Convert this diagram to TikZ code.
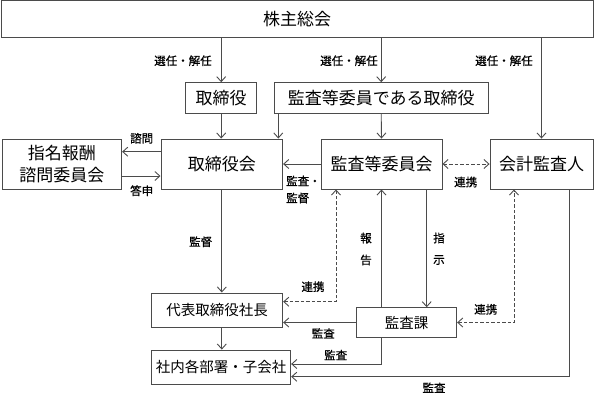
\documentclass[tikz,border=0pt]{standalone}
\usepackage{fontspec}
\setmainfont{Noto Sans CJK JP}
\newfontfamily\labfont{Noto Sans CJK JP}[FakeBold=0.7]
\usetikzlibrary{arrows.meta,calc}
\definecolor{lc}{RGB}{75,75,75}
\begin{document}
\begin{tikzpicture}[x=1pt,y=-1pt,
  box/.style={draw=lc, line width=0.9pt, inner sep=0pt, align=center,
    font=\fontsize{17}{22}\selectfont},
  sbox/.style={box, font=\fontsize{14.5}{18}\selectfont},
  arr/.style={draw=lc, line width=0.9pt, -{Straight Barb[length=5pt,width=9pt]}},
  barr/.style={draw=lc, line width=0.9pt, dash pattern=on 3.5pt off 2pt,
    {Straight Barb[length=5pt,width=9pt]}-{Straight Barb[length=5pt,width=9pt]}},
  lab/.style={inner sep=0pt, font=\labfont\fontsize{11.5}{17}\selectfont}]
\useasboundingbox (0,0) rectangle (594,394);
% boxes
\node[box, minimum width=592pt, minimum height=37pt] (top) at (297,19) {株主総会};
\node[box, minimum width=71pt, minimum height=30.6pt] (tori) at (221.2,98) {取締役};
\node[box, minimum width=214.3pt, minimum height=30.6pt] (kansatori) at (381.2,98) {監査等委員である取締役};
\node[box, minimum width=119.7pt, minimum height=50pt] (shimei) at (61.8,164) {指名報酬\\諮問委員会};
\node[box, minimum width=121.7pt, minimum height=50pt] (torikai) at (221.8,164) {取締役会};
\node[box, minimum width=121pt, minimum height=50pt] (kansakai) at (381.5,164) {監査等委員会};
\node[box, minimum width=103pt, minimum height=50pt] (kaikei) at (541.5,164) {会計監査人};
\node[sbox, minimum width=131pt, minimum height=34.7pt] (daihyo) at (217.2,310.3) {代表取締役社長};
\node[sbox, minimum width=139pt, minimum height=34.3pt] (shanai) at (221.2,367.2) {社内各部署・子会社};
\node[sbox, minimum width=100pt, minimum height=29.6pt] (kansaka) at (406.7,322.5) {監査課};
% connectors
\draw[arr] (tori.north |- top.south) -- (tori.north);
\draw[arr] (kansatori.north |- top.south) -- (kansatori.north);
\draw[arr] (kaikei.north |- top.south) -- (kaikei.north);
\draw[arr] (tori.south) -- (tori.south |- torikai.north);
\draw[arr] ([xshift=4.7pt]kansatori.south west) -- ([xshift=4.7pt]kansatori.south west |- torikai.north);
\draw[arr] (kansatori.south) -- (kansakai.north);
\draw[arr] ([yshift=12.3pt]torikai.west) -- ([yshift=12.3pt]torikai.west -| shimei.east);
\draw[arr] ([yshift=-12pt]shimei.east) -- ([yshift=-12pt]shimei.east -| torikai.west);
\draw[arr] (kansakai.west) -- (torikai.east);
\draw[barr] (kansakai.east) -- (kaikei.west);
\draw[arr] (torikai.south) -- (torikai.south |- daihyo.north);
\draw[arr] (torikai.south |- daihyo.south) -- (torikai.south |- shanai.north);
\draw[barr] ([yshift=8.6pt]daihyo.east) -| ([xshift=-45.5pt]kansakai.south);
\draw[arr] (kansakai.south |- kansaka.north) -- (kansakai.south);
\draw[arr] ([xshift=45.2pt]kansakai.south) -- ([xshift=45.2pt]kansakai.south |- kansaka.north);
\draw[arr] (kansaka.west) -- (kansaka.west -| daihyo.east);
\draw[arr] (kansakai.south |- kansaka.south) |- ([yshift=3.2pt]shanai.east);
\draw[arr] ([xshift=27.8pt]kaikei.south) |- ([yshift=-9.5pt]shanai.east);
\draw[barr] (kansaka.east) -| ([xshift=-27.5pt]kaikei.south);
% labels
\node[lab] (l1) at (183,60.7) {選任・解任};
\node[lab] (l2) at (349,60.7) {選任・解任};
\node[lab] (l3) at (504,60.7) {選任・解任};
\node[lab] (l4) at (141.7,138.3) {諮問};
\node[lab] (l5) at (141.7,190.7) {答申};
\node[lab, align=left, anchor=west] (l6) at (286,189.5) {監査・\\監督};
\node[lab] (l7) at (465.7,182) {連携};
\node[lab] (l8) at (200.7,241.7) {監督};
\node[lab] (l9) at (313,286.7) {連携};
\node[lab] (l10) at (366,238) {報};
\node[lab] (l11) at (366,260) {告};
\node[lab] (l12) at (439,238) {指};
\node[lab] (l13) at (439,260) {示};
\node[lab] (l14) at (323.3,333.3) {監査};
\node[lab] (l15) at (335.7,355) {監査};
\node[lab] (l16) at (434,387.7) {監査};
\node[lab] (l17) at (485.7,309.3) {連携};
\end{tikzpicture}
\end{document}
